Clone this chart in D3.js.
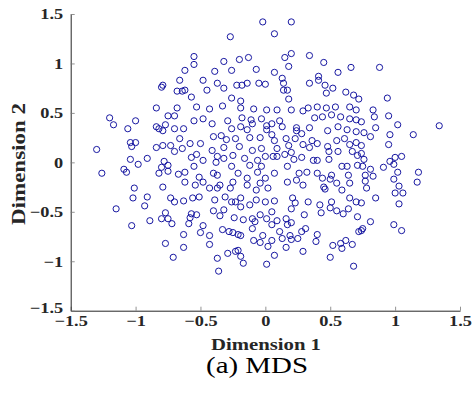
<!DOCTYPE html>
<html lang="en">
<head>
  <meta charset="UTF-8" />
  <title>MDS scatter</title>
  <script src="https://d3js.org/d3.v7.min.js"></script>
  <style>
    html, body { margin: 0; padding: 0; background: #ffffff; overflow: hidden; }
    svg { display: block; font-family: 'Liberation Serif', 'Times New Roman', serif; }
    .axis path, .axis line { stroke: #262626; }
    .axis .tick line { stroke: #777; stroke-width: 0.8; }
    .axis text { font-size: 15px; font-weight: bold; fill: #262626; font-family: 'Liberation Serif', serif; }
    .axis-label { font-size: 16.5px; font-weight: bold; fill: #262626; }
    .caption { font-size: 22.5px; fill: #000; }
    .pt { fill: none; stroke: #0c0c9c; stroke-width: 0.95; }
  </style>
</head>
<body>
  <div id="chart"></div>
  <script>
    // tick values for both dimensions
    const xTicks = [-1.5, -1, -0.5, 0, 0.5, 1, 1.5];
    const yTicks = [-1.5, -1, -0.5, 0, 0.5, 1, 1.5];
    const xLabel = "Dimension 1";
    const yLabel = "Dimension 2";
    const caption = "(a) MDS";

    // [dimension 1, dimension 2]
    const mdsPoints = [
      [-0.02,1.42],[-0.27,1.27],[-0.55,1.07],[-0.55,0.99],[-0.32,1.02],[-0.20,1.04],[-0.13,1.06],[-0.62,0.93],[-0.39,0.92],[-0.26,0.93],
      [-0.07,0.94],[-0.66,0.83],[-0.48,0.83],[-0.37,0.80],[-0.32,0.75],[-0.22,0.78],[-0.18,0.78],[-0.14,0.80],[-0.05,0.80],[0.00,0.79],
      [-0.80,0.76],[-0.79,0.78],[-0.68,0.72],[-0.64,0.72],[-0.62,0.73],[-0.45,0.73],[-0.57,0.66],[-0.26,0.65],[-0.19,0.62],
      [0.20,1.42],[0.07,1.30],[0.20,1.10],[0.15,1.06],[0.34,1.08],[0.45,1.01],[0.18,0.97],[0.07,0.91],[0.56,0.91],[0.66,0.96],
      [0.88,0.96],[0.13,0.85],[0.14,0.80],[0.14,0.73],[0.17,0.73],[0.34,0.80],[0.41,0.87],[0.41,0.83],[0.46,0.78],[0.52,0.75],
      [0.47,0.70],[0.62,0.71],[0.68,0.68],[0.72,0.64],[0.94,0.65],[0.18,0.64],
      [-0.84,0.55],[-0.68,0.55],[-1.20,0.45],[-1.17,0.38],[-1.00,0.42],[-1.06,0.34],[-0.84,0.36],[-0.82,0.34],[-0.77,0.38],[-0.75,0.47],
      [-0.70,0.47],[-0.79,0.32],[-0.70,0.34],[-1.30,0.13],[-1.04,0.20],[-1.00,0.20],[-1.03,0.16],[-0.84,0.15],[-0.79,0.17],[-0.73,0.17],
      [-0.70,0.11],[-0.66,0.24],[-1.04,0.03],[-0.98,-0.02],[-0.91,0.04],[-1.09,-0.07],[-1.07,-0.10],[-1.26,-0.11],[-0.78,0.01],[-0.75,-0.03],
      [-0.80,-0.05],[-0.82,-0.11],[-0.75,-0.09],[-0.67,-0.12],[-1.01,-0.26],[-0.79,-0.25],
      [-1.02,-0.36],[-0.91,-0.35],[-0.93,-0.44],[-1.15,-0.47],[-1.03,-0.64],[-0.89,-0.59],[-0.80,-0.57],[-0.77,-0.51],[-0.75,-0.57],[-0.72,-0.62],
      [-0.73,-0.36],[-0.70,-0.40],[-0.77,-0.82],[-0.71,-0.96],
      [-0.53,0.56],[-0.43,0.54],[-0.33,0.57],[-0.19,0.55],[-0.09,0.54],[0.01,0.53],[-0.55,0.42],[-0.48,0.44],[-0.41,0.39],[-0.29,0.42],
      [-0.18,0.45],[-0.11,0.43],[-0.10,0.39],[-0.03,0.44],[0.01,0.37],[-0.63,0.34],[-0.26,0.34],[-0.19,0.36],[-0.14,0.33],[-0.34,0.27],
      [-0.40,0.26],[-0.30,0.23],[-0.23,0.24],[-0.12,0.25],[-0.04,0.25],[0.01,0.33],[-0.58,0.19],[-0.50,0.19],[-0.32,0.15],[-0.20,0.16],
      [-0.10,0.12],[-0.03,0.14],[-0.64,0.14],[-0.41,0.12],[-0.53,0.08],[-0.57,0.05],[-0.48,0.02],[-0.37,0.06],[-0.32,0.04],[-0.25,0.07],
      [-0.16,0.04],[-0.06,0.02],[0.00,0.06],[-0.38,0.00],[-0.55,-0.04],[-0.26,-0.04],[-0.12,-0.03],[-0.03,-0.04],[-0.62,-0.10],[-0.40,-0.11],
      [-0.37,-0.13],[-0.21,-0.11],[-0.06,-0.10],[-0.51,-0.15],[-0.14,-0.16],[0.00,-0.16],[-0.62,-0.20],[-0.54,-0.23],[-0.48,-0.20],[-0.35,-0.23],
      [-0.25,-0.20],[-0.14,-0.23],[-0.04,-0.21],[-0.43,-0.26],[-0.37,-0.26],[-0.27,-0.26],[-0.07,-0.28],[0.02,-0.26],
      [0.09,0.53],[0.20,0.53],[0.29,0.52],[0.33,0.55],[0.40,0.56],[0.47,0.55],[0.54,0.56],[0.65,0.56],[0.70,0.53],
      [0.05,0.39],[0.13,0.36],[0.11,0.42],[0.24,0.35],[0.24,0.32],[0.28,0.29],[0.34,0.35],[0.38,0.45],[0.44,0.46],[0.51,0.48],
      [0.58,0.46],[0.65,0.44],[0.70,0.43],[0.48,0.32],[0.56,0.36],[0.63,0.33],[0.70,0.31],
      [0.05,0.28],[0.07,0.22],[0.16,0.24],[0.18,0.17],[0.23,0.24],[0.29,0.18],[0.34,0.15],[0.36,0.22],[0.40,0.19],[0.48,0.16],
      [0.49,0.11],[0.55,0.22],[0.61,0.24],[0.65,0.18],[0.70,0.20],
      [0.09,0.14],[0.15,0.08],[0.20,0.10],[0.22,0.03],[0.06,0.06],[0.09,0.06],[0.17,-0.04],[0.28,0.05],[0.37,0.02],[0.40,0.02],
      [0.49,0.03],[0.56,0.11],[0.59,-0.04],[0.63,-0.04],[0.67,0.11],[0.71,0.07],[0.71,-0.03],
      [0.07,-0.11],[0.26,-0.11],[0.32,-0.10],[0.40,-0.11],[0.44,-0.16],[0.51,-0.13],[0.50,-0.17],[0.64,-0.13],[0.65,-0.21],[0.17,-0.20],
      [0.24,-0.18],[0.29,-0.23],[0.45,-0.25],[0.46,-0.27],[0.55,-0.21],[0.59,-0.28],
      [0.83,0.53],[0.84,0.46],[0.95,0.47],[1.02,0.38],[0.85,0.35],[0.74,0.41],[0.76,0.30],[0.81,0.26],[0.96,0.28],[0.95,0.18],
      [1.14,0.28],[1.34,0.37],[0.74,0.17],[0.74,0.09],[0.76,0.03],[0.75,-0.04],[0.91,-0.05],[0.96,0.01],[0.99,-0.02],[1.00,0.05],
      [1.05,0.06],[0.81,-0.07],[0.83,-0.14],[0.77,-0.13],[0.77,-0.19],[1.02,-0.10],[1.18,-0.10],[1.17,-0.20],[0.99,-0.17],[1.03,-0.24],
      [0.78,-0.26],[1.00,-0.31],[1.06,-0.31],
      [-0.63,-0.39],[-0.56,-0.36],[-0.51,-0.35],[-0.39,-0.38],[-0.31,-0.35],[-0.26,-0.40],[-0.23,-0.40],[-0.19,-0.36],[-0.19,-0.45],[-0.12,-0.43],
      [-0.07,-0.38],[0.00,-0.40],[-0.40,-0.49],[-0.32,-0.48],[-0.35,-0.54],[-0.57,-0.52],[-0.58,-0.56],[-0.53,-0.53],[-0.59,-0.62],[-0.24,-0.56],
      [-0.17,-0.58],[-0.10,-0.57],[-0.08,-0.60],[-0.04,-0.53],[0.01,-0.57],[-0.48,-0.64],[-0.50,-0.71],[-0.63,-0.73],[-0.43,-0.74],[-0.43,-0.83],
      [-0.63,-0.86],[-0.33,-0.68],[-0.28,-0.70],[-0.25,-0.71],[-0.21,-0.73],[-0.19,-0.74],[-0.10,-0.67],[-0.09,-0.79],[-0.04,-0.81],[-0.02,-0.74],
      [0.02,-0.85],[-0.29,-0.92],[-0.23,-0.90],[-0.21,-0.89],[-0.19,-0.95],[-0.17,-1.02],[-0.37,-0.97],[-0.36,-1.10],[0.01,-1.03],
      [0.07,-0.39],[0.21,-0.36],[0.23,-0.41],[0.33,-0.40],[0.42,-0.43],[0.43,-0.51],[0.51,-0.40],[0.50,-0.46],[0.55,-0.49],[0.60,-0.52],
      [0.64,-0.47],[0.65,-0.36],[0.70,-0.40],[0.71,-0.55],[0.05,-0.50],[0.09,-0.59],[0.05,-0.63],[0.16,-0.57],[0.17,-0.63],[0.20,-0.61],
      [0.20,-0.47],[0.30,-0.53],[0.11,-0.70],[0.13,-0.77],[0.19,-0.74],[0.20,-0.78],[0.25,-0.77],[0.28,-0.70],[0.31,-0.67],[0.40,-0.73],
      [0.39,-0.80],[0.05,-0.79],[0.16,-0.86],[0.07,-0.94],[0.29,-0.90],[0.52,-0.84],[0.58,-0.82],[0.59,-0.87],[0.62,-0.79],[0.67,-0.83],
      [0.50,-0.96],[0.72,-0.70],[0.68,-1.05],
      [0.85,-0.36],[1.03,-0.42],[0.74,-0.41],[0.81,-0.60],[0.75,-0.67],[0.74,-0.69],[0.99,-0.63],[1.05,-0.69]
    ];

    const W = 474, H = 401;
    const plot = { left: 70.7, right: 460, top: 14, bottom: 310.7 };
    const stretch = 1.22; // the figure's text is drawn a little wide

    const svg = d3.select("#chart").append("svg")
      .attr("width", W)
      .attr("height", H);

    const x = d3.scaleLinear().domain([-1.5, 1.5]).range([plot.left, plot.right]);
    const y = d3.scaleLinear().domain([-1.5, 1.5]).range([plot.bottom, plot.top]);

    const fmt = d => String(d).replace("-", "\u2212");

    const gx = svg.append("g")
      .attr("class", "axis")
      .attr("transform", `translate(0,${plot.bottom})`)
      .call(d3.axisBottom(x).tickValues(xTicks).tickFormat(fmt)
        .tickSizeInner(-4).tickSizeOuter(0).tickPadding(5));

    const gy = svg.append("g")
      .attr("class", "axis")
      .attr("transform", `translate(${plot.left},0)`)
      .call(d3.axisLeft(y).tickValues(yTicks).tickFormat(fmt)
        .tickSizeInner(-4).tickSizeOuter(0).tickPadding(6.2));

    gx.selectAll(".tick text").attr("transform", `scale(${stretch},1)`);
    gy.selectAll(".tick text").attr("transform", `scale(${stretch},1)`);
    // lowest y label sits just above the x labels, as in the figure
    gy.selectAll(".tick text").filter(d => d === -1.5).attr("dy", "0.1em");
    svg.selectAll(".axis .domain").attr("stroke-width", 1);

    svg.append("g")
      .selectAll("circle")
      .data(mdsPoints)
      .join("circle")
      .attr("class", "pt")
      .attr("cx", d => x(d[0]))
      .attr("cy", d => y(d[1]))
      .attr("r", 3.1);

    svg.append("text")
      .attr("class", "axis-label")
      .attr("x", 266)
      .attr("y", 350)
      .attr("text-anchor", "middle")
      .attr("textLength", 110)
      .attr("lengthAdjust", "spacingAndGlyphs")
      .text(xLabel);

    svg.append("text")
      .attr("class", "axis-label")
      .attr("transform", `translate(25,164) rotate(-90) scale(1,1.2)`)
      .attr("text-anchor", "middle")
      .attr("textLength", 122)
      .attr("lengthAdjust", "spacingAndGlyphs")
      .text(yLabel);

    svg.append("text")
      .attr("class", "caption")
      .attr("x", 257)
      .attr("y", 373)
      .attr("text-anchor", "middle")
      .attr("textLength", 102)
      .attr("lengthAdjust", "spacingAndGlyphs")
      .text(caption);
  </script>
</body>
</html>
